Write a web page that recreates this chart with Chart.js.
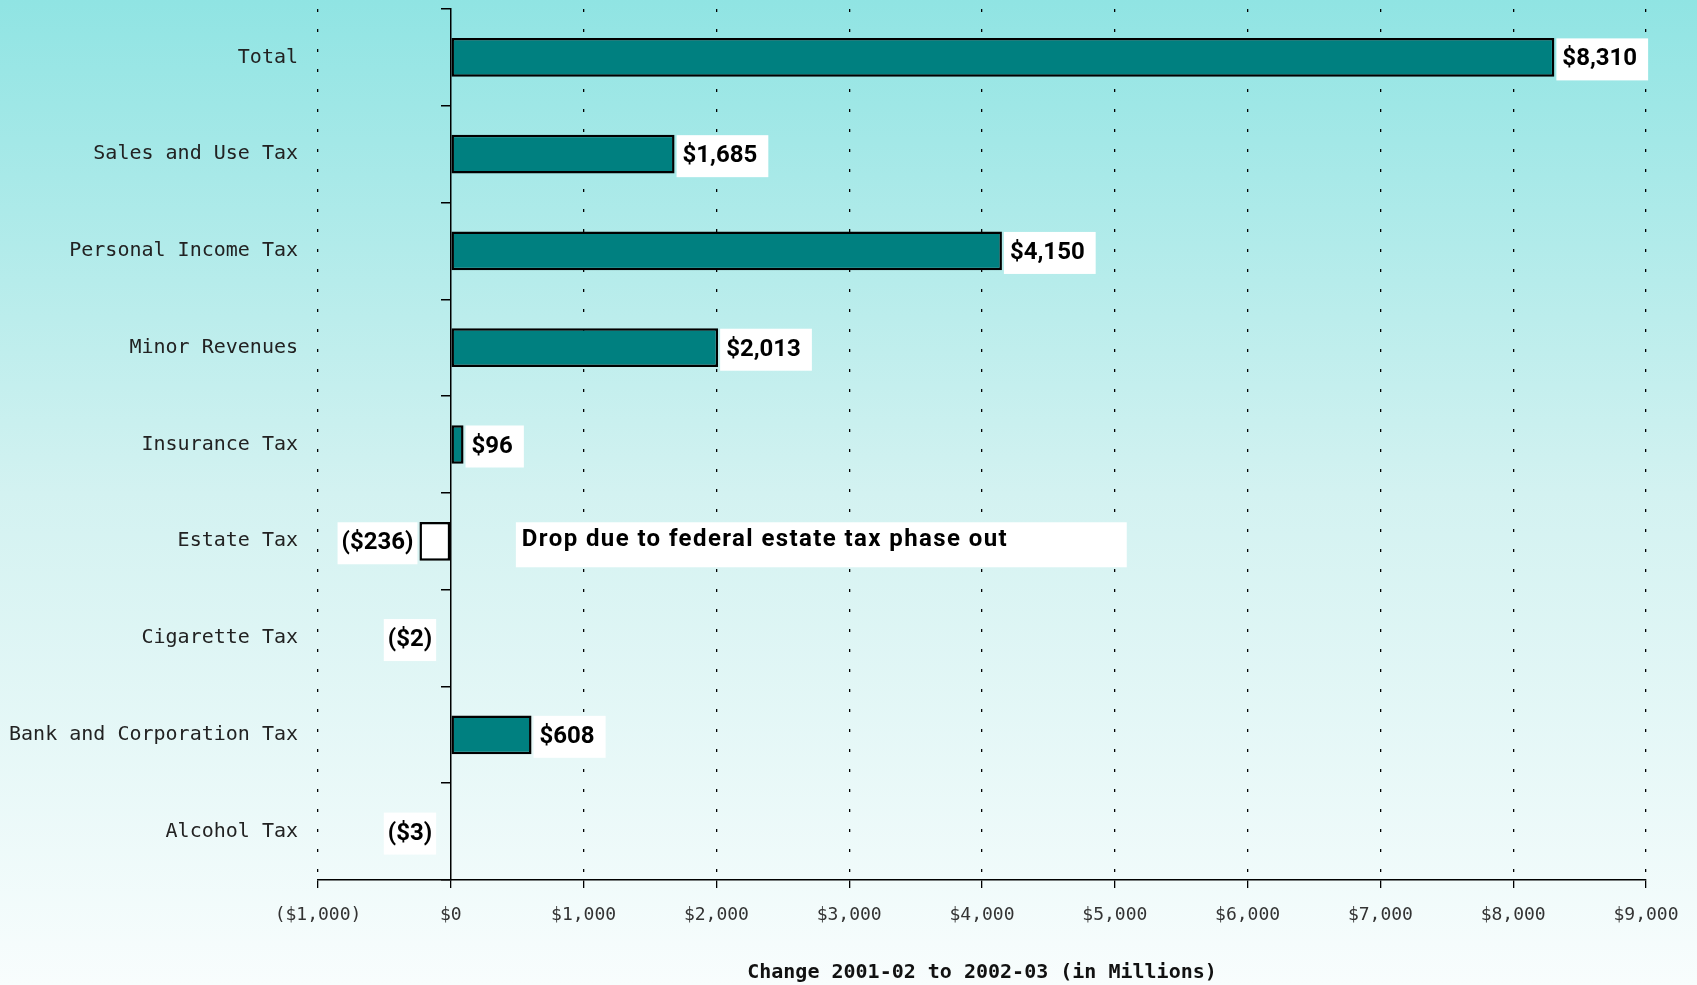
<!DOCTYPE html>
<html>
<head>
<meta charset="utf-8">
<title>Revenue change 2001-02 to 2002-03</title>
<script src="https://cdn.jsdelivr.net/npm/chart.js@4.4.1/dist/chart.umd.min.js"></script>
<style>
    html, body { margin: 0; padding: 0; }
    body {
        width: 1697px;
        height: 985px;
        background: linear-gradient(to bottom, #90e4e3 0%, #d3f2f1 50%, #f8fdfd 100%);
    }
    #wrap { position: relative; width: 1697px; height: 985px; }
</style>
</head>
<body>
<div id="wrap"><canvas id="revenue-chart"></canvas></div>
<script>
const categories = [
    "Total",
    "Sales and Use Tax",
    "Personal Income Tax",
    "Minor Revenues",
    "Insurance Tax",
    "Estate Tax",
    "Cigarette Tax",
    "Bank and Corporation Tax",
    "Alcohol Tax"
];
const changes = [8310, 1685, 4150, 2013, 96, -236, -2, 608, -3];
const xTicks = [-1000, 0, 1000, 2000, 3000, 4000, 5000, 6000, 7000, 8000, 9000];
const axisTitle = "Change 2001-02 to 2002-03 (in Millions)";
const noteText = "Drop due to federal estate tax phase out";
const noteCategory = "Estate Tax";
const noteRange = [490, 5090];

function money(v) {
    const s = "$" + Math.abs(v).toLocaleString("en-US");
    return v < 0 ? "(" + s + ")" : s;
}

const labelFont = "700 24px Roboto";

const valueLabels = {
    id: "valueLabels",
    afterDatasetsDraw(chart) {
        const ctx = chart.ctx;
        const meta = chart.getDatasetMeta(0);
        const x = chart.scales.x;
        ctx.save();
        ctx.font = labelFont;
        ctx.textBaseline = "middle";

        meta.data.forEach((bar, i) => {
            const v = changes[i];
            const text = money(v);
            const w = ctx.measureText(text).width;
            const h = 42;
            let left, boxW, pad;
            if (v >= 0) {
                boxW = w + 17;
                pad = 6;
                left = bar.x + 2;
            } else {
                boxW = w + 8;
                pad = 4;
                const right = Math.min(bar.x, bar.base - 12) - 2;
                left = right - boxW;
            }
            ctx.fillStyle = "#ffffff";
            ctx.fillRect(left, bar.y - h / 2 + 2, boxW, h);
            ctx.fillStyle = "#000000";
            ctx.fillText(text, left + pad, bar.y + 2);
        });

        // note next to the estate tax bar
        const idx = categories.indexOf(noteCategory);
        const bar = meta.data[idx];
        const l = x.getPixelForValue(noteRange[0]);
        const r = x.getPixelForValue(noteRange[1]);
        ctx.fillStyle = "#ffffff";
        ctx.fillRect(l, bar.y - 21 + 2, r - l, 45);
        ctx.fillStyle = "#000000";
        ctx.letterSpacing = "1.4px";
        ctx.fillText(noteText, l + 6, bar.y - 1);
        ctx.restore();
    }
};

Chart.defaults.font.family = "'DejaVu Sans Mono', monospace";
Chart.defaults.color = "#222222";

const ctx = document.getElementById("revenue-chart").getContext("2d");
new Chart(ctx, {
    type: "bar",
    data: {
        labels: categories,
        datasets: [{
            data: changes,
            backgroundColor: changes.map(v => v >= 0 ? "#008080" : "#ffffff"),
            borderColor: "#000000",
            borderWidth: 2.5,
            borderSkipped: false,
            barPercentage: 0.4,
            categoryPercentage: 1.0,
            yAxisID: "y"
        }]
    },
    options: {
        indexAxis: "y",
        responsive: true,
        maintainAspectRatio: false,
        animation: false,
        layout: { padding: { top: 9, right: 51, left: 0, bottom: 0 } },
        plugins: {
            legend: { display: false },
            tooltip: { enabled: false }
        },
        scales: {
            x: {
                type: "linear",
                min: xTicks[0],
                max: xTicks[xTicks.length - 1],
                afterBuildTicks: scale => { scale.ticks = xTicks.map(v => ({ value: v })); },
                afterFit: scale => { scale.height = 105; },
                grid: {
                    color: c => (c.tick && c.tick.value === 0) ? "rgba(0,0,0,0)" : "#000000",
                    lineWidth: 1.3,
                    drawTicks: true,
                    tickLength: 8,
                    tickColor: "#000000",
                    tickWidth: 1.3
                },
                border: { display: true, color: "#000000", width: 1.5, dash: [3, 17] },
                ticks: {
                    font: { size: 18 },
                    color: "#333333",
                    padding: 17,
                    callback: v => money(v)
                },
                title: {
                    display: true,
                    text: axisTitle,
                    color: "#111111",
                    font: { size: 20, weight: "bold" },
                    padding: { top: 0, bottom: 0 }
                }
            },
            y: {
                type: "category",
                position: "left",
                afterFit: scale => {
                    scale.width = 318;
                    scale.paddingTop = 0;
                    scale.paddingBottom = 0;
                },
                grid: { display: false },
                border: { display: false },
                ticks: {
                    font: { size: 20 },
                    color: "#222222",
                    padding: 12
                }
            },
            yz: {
                type: "category",
                labels: categories,
                position: { x: 0 },
                offset: true,
                grid: {
                    offset: true,
                    drawOnChartArea: false,
                    drawTicks: true,
                    tickLength: 9,
                    color: "#000000",
                    lineWidth: 1.5
                },
                border: { display: true, color: "#000000", width: 1.5 },
                ticks: { display: false }
            }
        }
    },
    plugins: [valueLabels]
});
</script>
</body>
</html>
